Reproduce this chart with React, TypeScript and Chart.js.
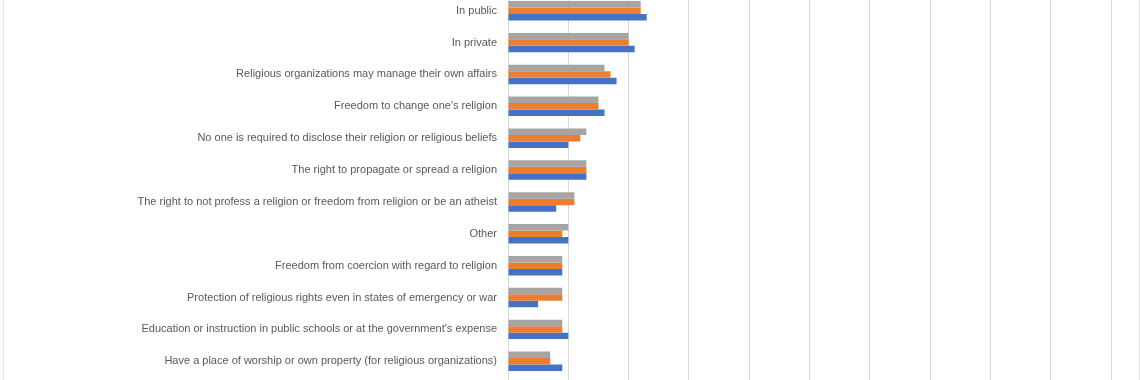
import React, { useEffect, useRef } from "react";
import { Chart, registerables } from "chart.js";

Chart.register(...registerables);

const categories: string[] = [
  "In public",
  "In private",
  "Religious organizations may manage their own affairs",
  "Freedom to change one's religion",
  "No one is required to disclose their religion or religious beliefs",
  "The right to propagate or spread a religion",
  "The right to not profess a religion or freedom from religion or be an atheist",
  "Other",
  "Freedom from coercion with regard to religion",
  "Protection of religious rights even in states of emergency or war",
  "Education or instruction in public schools or at the government's expense",
  "Have a place of worship or own property (for religious organizations)",
];

const seriesNames: string[] = ["Series 3", "Series 2", "Series 1"];
const grayValues: number[] = [22, 20, 16, 15, 13, 13, 11, 10, 9, 9, 9, 7];
const orangeValues: number[] = [22, 20, 17, 15, 12, 13, 11, 9, 9, 9, 9, 7];
const blueValues: number[] = [23, 21, 18, 16, 10, 13, 8, 10, 9, 5, 10, 9];

const xMin = 0;
const xMax = 100;
const xStep = 10;

export default function App() {
  const canvasRef = useRef<HTMLCanvasElement | null>(null);

  useEffect(() => {
    if (!canvasRef.current) return;
    const chart = new Chart(canvasRef.current, {
      type: "bar",
      data: {
        labels: categories,
        datasets: [
          { label: seriesNames[0], data: grayValues, backgroundColor: "#A5A5A5" },
          { label: seriesNames[1], data: orangeValues, backgroundColor: "#ED7D31" },
          { label: seriesNames[2], data: blueValues, backgroundColor: "#4472C4" },
        ],
      },
      options: {
        indexAxis: "y",
        animation: false,
        responsive: false,
        maintainAspectRatio: false,
        datasets: {
          bar: { categoryPercentage: 0.61, barPercentage: 1.0 },
        },
        layout: { padding: { top: 14.8, bottom: 12.8, left: 0, right: 29 } },
        plugins: {
          legend: { display: false },
          tooltip: { enabled: false },
        },
        scales: {
          x: {
            min: xMin,
            max: xMax,
            ticks: { display: false, stepSize: xStep },
            grid: { color: "#D9D9D9", drawTicks: true, tickLength: 6, tickColor: "#D9D9D9", lineWidth: 1 },
            border: { display: false },
            afterFit: (scale: any) => {
              scale.height = 0;
              scale.paddingLeft = 0;
              scale.paddingRight = 0;
            },
          },
          y: {
            ticks: {
              color: "#595959",
              padding: 11,
              font: { family: "'Liberation Sans', Arial, sans-serif", size: 11 },
              autoSkip: false,
            },
            grid: { display: false, drawTicks: false },
            border: { display: true, color: "#D9D9D9" },
            afterFit: (scale: any) => {
              scale.width = 508;
              scale.paddingTop = 0;
              scale.paddingBottom = 0;
            },
          },
        },
      },
    });
    return () => chart.destroy();
  }, []);

  return (
    <div
      style={{
        position: "fixed",
        left: 0,
        top: 0,
        width: 1140,
        height: 380,
        overflow: "hidden",
        background: "#ffffff",
      }}
    >
      <canvas
        ref={canvasRef}
        width={1140}
        height={410}
        style={{ position: "absolute", left: 0, top: -20, width: 1140, height: 410 }}
      />
      <div style={{ position: "absolute", left: 3, top: 0, width: 1, height: 380, background: "#E3E3E3" }} />
      <div style={{ position: "absolute", left: 1139, top: 0, width: 1, height: 380, background: "#E3E3E3" }} />
    </div>
  );
}
